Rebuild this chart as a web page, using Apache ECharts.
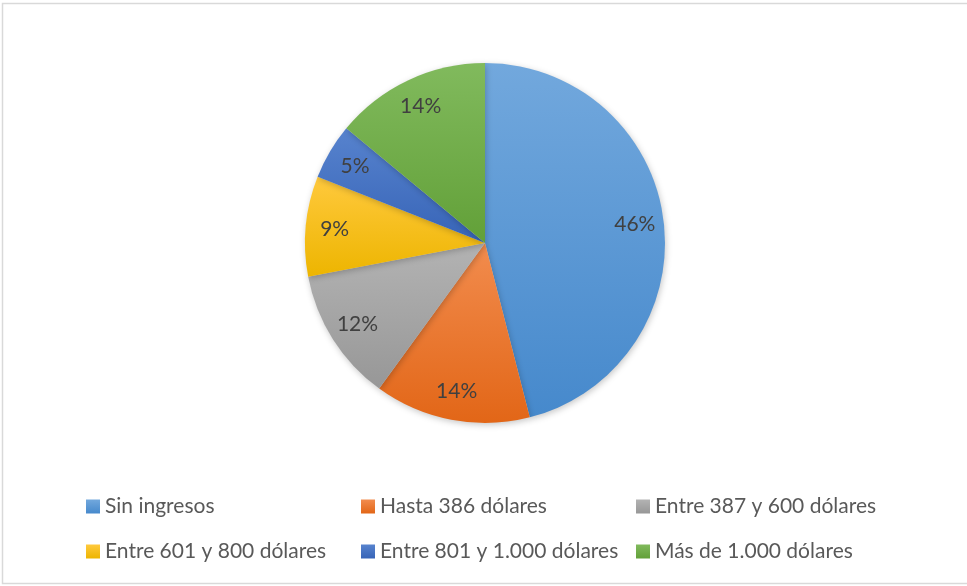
<!DOCTYPE html>
<html>
<head>
<meta charset="utf-8">
<script src="https://cdn.jsdelivr.net/npm/echarts@6/dist/echarts.min.js"></script>
<style>
  html, body { margin: 0; padding: 0; background: #ffffff; }
  #chart { width: 967px; height: 586px; }
</style>
</head>
<body>
<div id="chart"></div>
<script>
// Distribución por nivel de ingresos mensuales
const categories = [
  'Sin ingresos',
  'Hasta 386 dólares',
  'Entre 387 y 600 dólares',
  'Entre 601 y 800 dólares',
  'Entre 801 y 1.000 dólares',
  'Más de 1.000 dólares'
];
const shares = [46, 14, 12, 9, 5, 14];

// Slice shading: lighter tone at the top, deeper tone at the bottom
const topColors = ['#72A8DD', '#F28C4E', '#B3B3B3', '#FFC93D', '#5783CE', '#81BA5D'];
const bottomColors = ['#4689CC', '#E26617', '#979797', '#EDB500', '#3764B7', '#62A038'];

const FONT = 'Lato, "Open Sans", sans-serif';
const CX = 485, CY = 243, R = 180;

function gradient(i) {
  return new echarts.graphic.LinearGradient(0, 0, 0, 1, [
    { offset: 0, color: topColors[i] },
    { offset: 1, color: bottomColors[i] }
  ]);
}

const pieData = categories.map((name, i) => ({
  name: name,
  value: shares[i],
  itemStyle: { color: gradient(i) }
}));

const labelData = categories.map((name, i) => ({ name: name, value: shares[i] }));

function legendColumn(idx, left) {
  return {
    orient: 'vertical',
    left: left,
    top: 491,
    itemWidth: 14,
    itemHeight: 14,
    itemGap: 24,
    icon: 'rect',
    selectedMode: false,
    data: [categories[idx], categories[idx + 3]],
    textStyle: { fontFamily: FONT, fontSize: 21, color: '#595959' }
  };
}

const chart = echarts.init(document.getElementById('chart'), null, { renderer: 'canvas' });
chart.setOption({
  animation: false,
  backgroundColor: '#ffffff',
  graphic: [{
    type: 'rect',
    shape: { x: 2.5, y: 3.5, width: 975, height: 580 },
    style: { fill: 'none', stroke: '#d9d9d9', lineWidth: 1.5 },
    silent: true,
    z: -1
  }],
  legend: [legendColumn(0, 81), legendColumn(1, 356), legendColumn(2, 631)],
  series: [
    {
      type: 'pie',
      center: [CX, CY],
      radius: [0, R],
      startAngle: 90,
      clockwise: true,
      label: { show: false },
      labelLine: { show: false },
      itemStyle: {
        borderWidth: 0,
        shadowBlur: 6,
        shadowOffsetX: 1,
        shadowOffsetY: 2,
        shadowColor: 'rgba(0,0,0,0.22)'
      },
      emphasis: { disabled: true },
      data: pieData
    },
    {
      // transparent ring that carries the percentage labels
      type: 'pie',
      center: [CX, CY],
      radius: [116, R],
      startAngle: 90,
      clockwise: true,
      silent: true,
      itemStyle: { color: 'rgba(0,0,0,0)' },
      label: {
        show: true,
        position: 'inside',
        formatter: (p) => p.value + '%',
        fontFamily: FONT,
        fontSize: 21,
        color: '#404040'
      },
      labelLine: { show: false },
      emphasis: { disabled: true },
      data: labelData
    }
  ]
});
</script>
</body>
</html>
